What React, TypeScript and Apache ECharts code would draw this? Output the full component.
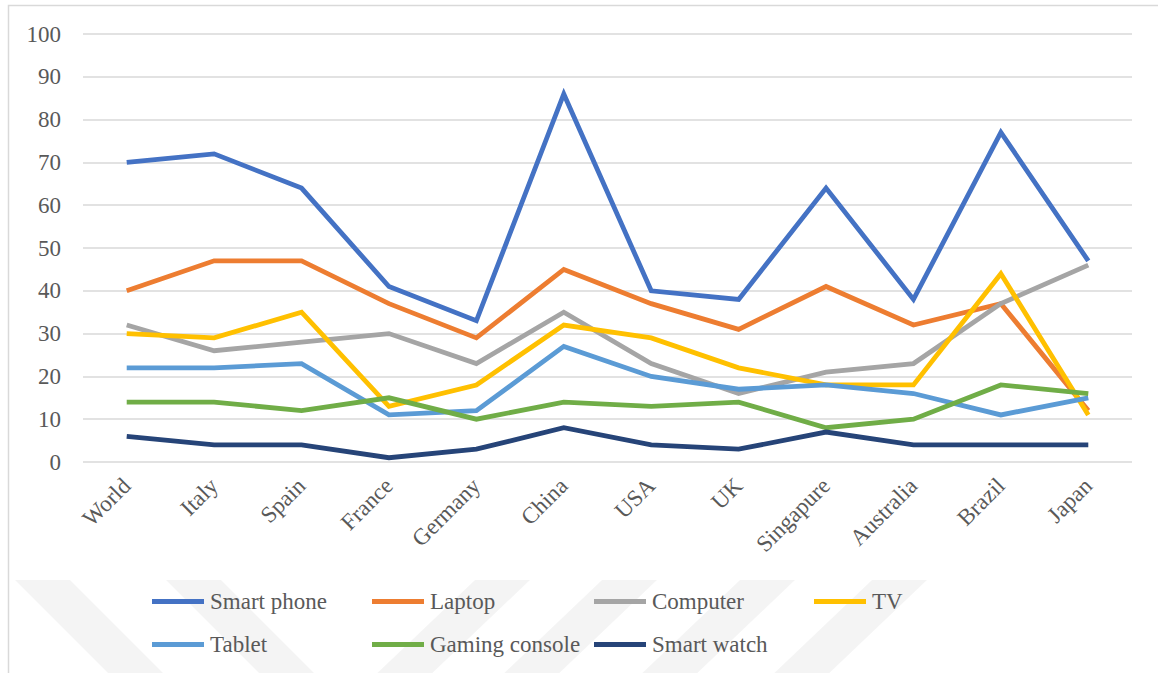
import React, { useEffect, useRef } from "react";
import * as echarts from "echarts";

const categories = ["World", "Italy", "Spain", "France", "Germany", "China", "USA", "UK", "Singapure", "Australia", "Brazil", "Japan"];
const yTicks = [0, 10, 20, 30, 40, 50, 60, 70, 80, 90, 100];
const smartPhone = [70, 72, 64, 41, 33, 86, 40, 38, 64, 38, 77, 47];
const laptop = [40, 47, 47, 37, 29, 45, 37, 31, 41, 32, 37, 12];
const computer = [32, 26, 28, 30, 23, 35, 23, 16, 21, 23, 37, 46];
const tv = [30, 29, 35, 13, 18, 32, 29, 22, 18, 18, 44, 11];
const tablet = [22, 22, 23, 11, 12, 27, 20, 17, 18, 16, 11, 15];
const gamingConsole = [14, 14, 12, 15, 10, 14, 13, 14, 8, 10, 18, 16];
const smartWatch = [6, 4, 4, 1, 3, 8, 4, 3, 7, 4, 4, 4];

const seriesDefs = [
  { name: "Smart phone", data: smartPhone, color: "#4472C4" },
  { name: "Laptop", data: laptop, color: "#ED7D31" },
  { name: "Computer", data: computer, color: "#A5A5A5" },
  { name: "TV", data: tv, color: "#FFC000" },
  { name: "Tablet", data: tablet, color: "#5B9BD5" },
  { name: "Gaming console", data: gamingConsole, color: "#70AD47" },
  { name: "Smart watch", data: smartWatch, color: "#264478" },
];

const FONT = "Liberation Serif, Times New Roman, serif";
const TEXT_COLOR = "#595959";

// legend layout: columns and rows
const legendCols = [152, 372, 594, 814];
const legendRows = [590, 633];

// faint watermark stripes (decoration)
const stripeBack = [15, 166];
const stripeFwd = [475, 602, 740, 872];

export default function App() {
  const ref = useRef<HTMLDivElement>(null);
  useEffect(() => {
    if (!ref.current) return;
    const chart = echarts.init(ref.current, null, { renderer: "svg" });

    const legends = seriesDefs.map((s, i) => ({
      left: legendCols[i < 4 ? i : i - 4],
      top: legendRows[i < 4 ? 0 : 1],
      padding: 0,
      data: [s.name],
      itemWidth: 52,
      itemHeight: 5,
      itemGap: 0,
      icon: "rect",
      selectedMode: false,
      textStyle: { fontFamily: FONT, fontSize: 23, color: TEXT_COLOR, padding: [0, 0, 0, 1] },
    }));

    const stripeW = 55;
    const wm: any[] = [];
    stripeBack.forEach((x) => {
      wm.push({
        type: "polygon",
        shape: { points: [[x, 580], [x + stripeW, 580], [x + stripeW + 100, 680], [x + 100, 680]] },
        style: { fill: "rgba(0,0,0,0.045)" },
        silent: true,
        z: -20,
      });
    });
    stripeFwd.forEach((x) => {
      wm.push({
        type: "polygon",
        shape: { points: [[x, 580], [x + stripeW, 580], [x + stripeW - 105, 680], [x - 105, 680]] },
        style: { fill: "rgba(0,0,0,0.045)" },
        silent: true,
        z: -20,
      });
    });

    chart.setOption({
      animation: false,
      backgroundColor: "#ffffff",
      graphic: [
        ...wm,
        {
          type: "rect",
          shape: { x: 8.5, y: 5.5, width: 1170, height: 700 },
          style: { fill: "none", stroke: "#d9d9d9", lineWidth: 1.5 },
          silent: true,
          z: -10,
        },
      ],
      grid: { left: 83, right: 26, top: 34, bottom: 211, containLabel: false },
      legend: legends,
      xAxis: {
        type: "category",
        data: categories,
        boundaryGap: true,
        axisLine: { show: false },
        axisTick: { show: false },
        axisLabel: {
          rotate: 45,
          interval: 0,
          margin: 20,
          fontFamily: FONT,
          fontSize: 23,
          color: TEXT_COLOR,
        },
      },
      yAxis: {
        type: "value",
        min: yTicks[0],
        max: yTicks[yTicks.length - 1],
        interval: yTicks[1] - yTicks[0],
        axisLine: { show: false },
        axisTick: { show: false },
        axisLabel: { margin: 22, fontFamily: FONT, fontSize: 23, color: TEXT_COLOR },
        splitLine: { lineStyle: { color: "#d9d9d9", width: 1.5 } },
      },
      series: seriesDefs.map((s) => ({
        name: s.name,
        type: "line",
        data: s.data,
        symbol: "none",
        color: s.color,
        lineStyle: { color: s.color, width: 4.8, cap: "butt", join: "miter" },
      })),
    });
    return () => chart.dispose();
  }, []);
  return (
    <div
      ref={ref}
      style={{ position: "fixed", left: 0, top: 0, width: 1158, height: 673 }}
    />
  );
}
